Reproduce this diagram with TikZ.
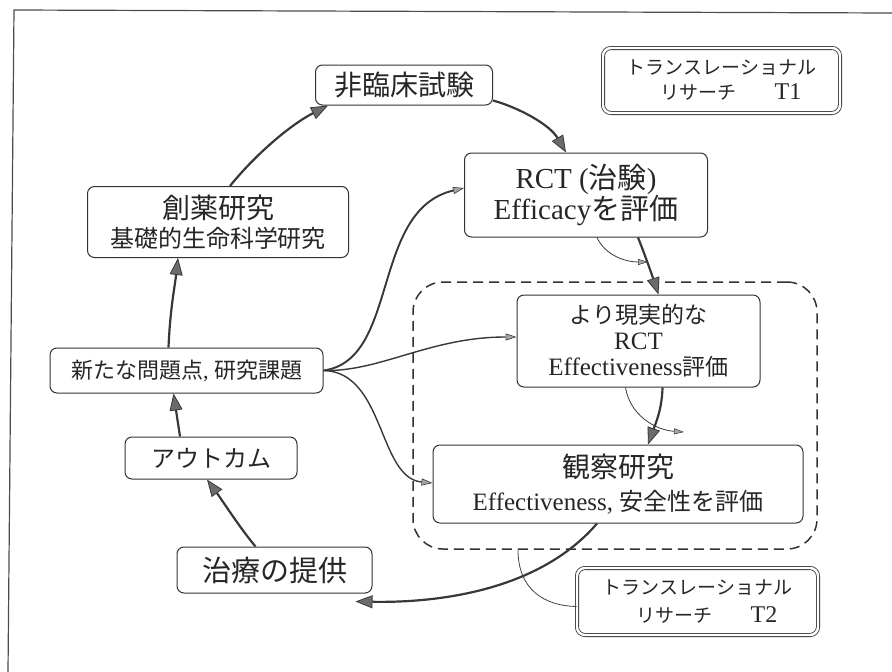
\documentclass[tikz,border=0pt]{standalone}
\usepackage{fontspec}
\setmainfont{Liberation Serif}
\newfontfamily\jpf{Noto Sans CJK JP}
\usetikzlibrary{arrows.meta}
\newcommand{\jp}[1]{{\jpf #1}}
\newcommand{\fsl}[2]{\fontsize{#1}{#2}\selectfont}
\begin{document}
\begin{tikzpicture}[x=1pt,y=-1pt,
  box/.style={draw=black!80,line width=1pt,rounded corners=7pt,align=center,inner sep=0pt,text=black!85},
  dbl/.style={draw=black!80,double=white,double distance=2.4pt,line width=0.8pt,rounded corners=8pt,align=center,inner sep=0pt,text=black!85},
  dashbox/.style={draw=black!80,dash pattern=on 10pt off 6pt,line width=1.5pt,rounded corners=30pt,inner sep=0pt},
  bigarr/.style={draw=black!78,line width=2.2pt,-{Triangle[length=17pt,width=13pt,fill=black!58,line width=0.8pt]}},
  midarr/.style={draw=black!78,line width=1.4pt,-{Triangle[length=11pt,width=7pt,fill=black!35,line width=0.6pt]}},
  thinarr/.style={draw=black!78,line width=0.8pt,-{Triangle[length=10pt,width=6pt,fill=black!35,line width=0.5pt]}},
  link/.style={draw=black!75,line width=0.8pt}
]
\useasboundingbox (0,0) rectangle (892,672);
% frame
\draw[black!70,line width=1.2pt] (8,672) -- (14,10) -- (892,13);

% dashed group
\node[dashbox,minimum width=404,minimum height=267] (dbox) at (615,415.5) {};

% boxes
\node[box,minimum width=177,minimum height=40,font=\fsl{28}{30}] (nr) at (404,85) {\jp{非臨床試験}};
\node[box,minimum width=261,minimum height=71,font=\fsl{24}{29}] (sy) at (218,222)
  {\fsl{28}{29}\jp{創薬研究}\\\fsl{24}{29}\jp{基礎的生命科学研究}};
\node[box,minimum width=243,minimum height=84,font=\fsl{29}{30}] (rct) at (586,195)
  {RCT (\jp{治験})\\Efficacy\jp{を評価}};
\node[dbl,minimum width=237,minimum height=65,font=\fsl{19}{25}] (t1) at (721.5,80.5)
  {\jp{トランスレーショナル}\\\hspace{1em}\jp{リサーチ}\hspace{2em}{\fontsize{24}{25}\selectfont T1}};
\node[box,minimum width=243,minimum height=92,font=\fsl{23}{26}] (real) at (638.5,341)
  {\jp{より現実的な}\\{\fontsize{25}{26}\selectfont RCT}\\{\fontsize{25}{26}\selectfont Effectiveness}\jp{評価}};
\node[box,minimum width=370,minimum height=78,font=\fsl{24}{33}] (obs) at (618,484)
  {\fsl{28}{33}\jp{観察研究}\\\fsl{25}{33}Effectiveness, \fsl{24}{33}\jp{安全性を評価}};
\node[box,minimum width=273,minimum height=45,font=\fsl{22}{24}] (nq) at (186.5,370.5)
  {\jp{新たな問題点}, \jp{研究課題}};
\node[box,minimum width=172,minimum height=42,font=\fsl{24}{26}] (oc) at (211,458) {\jp{アウトカム}};
\node[box,minimum width=195,minimum height=46,font=\fsl{29}{31}] (tr) at (274.5,570) {\jp{治療の提供}};
\node[dbl,minimum width=241,minimum height=67,font=\fsl{19}{28}] (t2) at (697.5,601.5)
  {\jp{トランスレーショナル}\\\hspace{1em}\jp{リサーチ}\hspace{2em}{\fontsize{24}{28}\selectfont T2}};

% free ends
\coordinate (rctout) at (648,262);
\coordinate (realout) at (684,432);
\coordinate (trtip) at ([xshift=-17pt,yshift=-8pt]tr.south east);

% main cycle
\draw[bigarr] ([xshift=12pt]sy.north) .. controls (255,155) and (290,125) .. ([xshift=-76pt]nr.south);
\draw[bigarr] ([yshift=5pt]nr.south east) .. controls (520,108) and (550,125) .. ([xshift=-20pt]rct.north);
\draw[bigarr] ([xshift=52pt]rct.south) .. controls (645,255) and (652,275) .. ([xshift=20pt]real.north);
\draw[bigarr] ([xshift=24pt]real.south) .. controls (662,410) and (655,425) .. ([xshift=30pt]obs.north);
\draw[bigarr] ([xshift=-21pt]obs.south) .. controls (540,590) and (440,603) .. (trtip);
\draw[bigarr] ([xshift=-19pt]tr.north) .. controls (240,528) and (222,500) .. ([xshift=-4pt]oc.south);
\draw[bigarr] ([xshift=-31pt]oc.north) -- ([xshift=-13pt]nq.south);
\draw[bigarr] ([xshift=-18pt]nq.north) .. controls (170,310) and (175,285) .. ([xshift=-40pt]sy.south);

% side arrows
\draw[thinarr] ([xshift=11pt]rct.south) .. controls (605,255) and (625,262) .. (rctout);
\draw[thinarr] ([xshift=-13pt]real.south) .. controls (630,415) and (655,430) .. (realout);

% branches from new problems
\draw[midarr,line width=1.9pt] (nq.east) .. controls (400,360) and (370,210) .. ([yshift=7pt]rct.west);
\draw[midarr] (nq.east) .. controls (380,372) and (430,337) .. ([yshift=4pt]real.west);
\draw[midarr] (nq.east) .. controls (385,372) and (378,478) .. ([yshift=1pt]obs.west);

% link to T2
\draw[link] ([xshift=-97pt]dbox.south) .. controls (518,590) and (545,606) .. ([yshift=-5pt]t2.west);
\end{tikzpicture}
\end{document}
